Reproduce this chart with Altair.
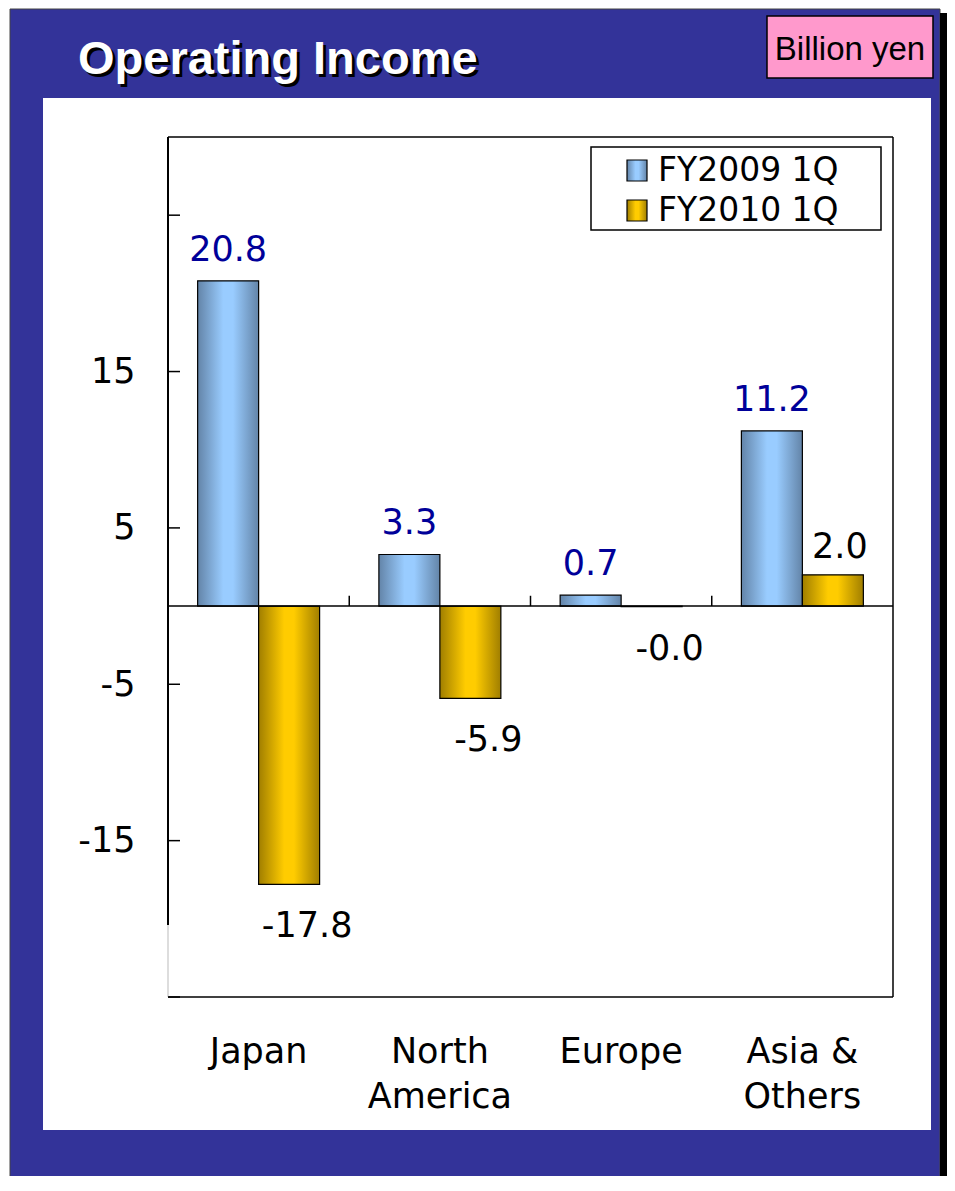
import altair as alt
import pandas as pd

# ---------------- data ----------------
regions = ["Japan", "North\nAmerica", "Europe", "Asia &\nOthers"]
series = ["FY2009 1Q", "FY2010 1Q"]
fy2009 = [20.8, 3.3, 0.7, 11.2]
fy2010 = [-17.8, -5.9, -0.04, 2.0]
fy2009_labels = ["20.8", "3.3", "0.7", "11.2"]
fy2010_labels = ["-17.8", "-5.9", "-0.0", "2.0"]
y_tick_values = [-25, -15, -5, 5, 15, 25]
y_label_values = [-15, -5, 5, 15]
title_text = "Operating Income"
unit_text = "Billion yen"

rows = []
for r, v, l in zip(regions, fy2009, fy2009_labels):
    rows.append({"region": r, "series": series[0], "value": v, "label": l})
for r, v, l in zip(regions, fy2010, fy2010_labels):
    rows.append({"region": r, "series": series[1], "value": v, "label": l})
df = pd.DataFrame(rows)
d09 = df[df["series"] == series[0]]
d10 = df[df["series"] == series[1]]
ticks_df = pd.DataFrame({"value": y_tick_values})
bounds_df = pd.DataFrame({"region": regions[1:]})
one = alt.Data(values=[{}])

# ---------------- styles ----------------
W, H = 725, 860
FONT = "DejaVu Sans"
BLUE_FRAME = "#333399"
grad09 = alt.LinearGradient(
    gradient="linear", x1=0, x2=1, y1=0, y2=0,
    stops=[alt.GradientStop(offset=0, color="#6384A8"),
           alt.GradientStop(offset=0.42, color="#99CCFF"),
           alt.GradientStop(offset=0.58, color="#99CCFF"),
           alt.GradientStop(offset=1, color="#6384A8")])
grad10 = alt.LinearGradient(
    gradient="linear", x1=0, x2=1, y1=0, y2=0,
    stops=[alt.GradientStop(offset=0, color="#A07E00"),
           alt.GradientStop(offset=0.42, color="#FFCC00"),
           alt.GradientStop(offset=0.58, color="#FFCC00"),
           alt.GradientStop(offset=1, color="#A07E00")])

x_scale = alt.Scale(domain=regions, paddingInner=0, paddingOuter=0)
y_scale = alt.Scale(domain=[-25, 30], nice=False, zero=False)
xo_scale = alt.Scale(domain=series, paddingInner=0, paddingOuter=0.486)

x_axis = alt.Axis(title=None, labelExpr="split(datum.label, '\\n')", labelFont=FONT,
                  labelFontSize=35, labelColor="black", labelPadding=37,
                  labelLineHeight=45, labelAngle=0, ticks=False, tickSize=0,
                  domain=False, grid=False, zindex=5)
y_axis = alt.Axis(title=None, values=y_label_values, labelExpr="'' + datum.value",
                  labelFont=FONT, labelFontSize=35, labelColor="black",
                  labelPadding=33, ticks=False, tickSize=0, domain=False, grid=False,
                  zindex=5)

X = alt.X("region:N", scale=x_scale, axis=x_axis)
Y = alt.Y("value:Q", scale=y_scale, axis=y_axis)
XO = alt.XOffset("series:N", scale=xo_scale)

# ---------------- decoration ----------------
frame = alt.Chart(one).mark_rect(fill=BLUE_FRAME, stroke="#444444", strokeWidth=1).encode(
    x=alt.value(-158), x2=alt.value(772), y=alt.value(-128), y2=alt.value(1045))
shadow = alt.Chart(one).mark_rect(fill="black").encode(
    x=alt.value(772), x2=alt.value(779), y=alt.value(-124), y2=alt.value(1045))
panel = alt.Chart(one).mark_rect(fill="white").encode(
    x=alt.value(-125), x2=alt.value(763), y=alt.value(-39), y2=alt.value(993))
unit_box = alt.Chart(one).mark_rect(fill="#FF99CC", stroke="black", strokeWidth=1.5).encode(
    x=alt.value(599), x2=alt.value(765), y=alt.value(-121), y2=alt.value(-59))
unit_txt = alt.Chart(one).mark_text(text=unit_text, font="Liberation Sans", fontSize=33,
                                    color="black", align="center", baseline="alphabetic").encode(
    x=alt.value(682), y=alt.value(-77))
title_shadow = alt.Chart(one).mark_text(text=title_text, font="Liberation Sans",
                                        fontSize=47, fontWeight="bold", color="black",
                                        align="left", baseline="alphabetic").encode(
    x=alt.value(-87), y=alt.value(-60))
title = alt.Chart(one).mark_text(text=title_text, font="Liberation Sans",
                                 fontSize=47, fontWeight="bold", color="white",
                                 align="left", baseline="alphabetic").encode(
    x=alt.value(-90), y=alt.value(-63))

# plot borders
top_b = alt.Chart(one).mark_rule(color="black", strokeWidth=1.5).encode(
    x=alt.value(0), x2=alt.value(W), y=alt.value(0))
right_b = alt.Chart(one).mark_rule(color="black", strokeWidth=1.5).encode(
    x=alt.value(W), y=alt.value(0), y2=alt.value(H))
bottom_b = alt.Chart(one).mark_rule(color="black", strokeWidth=1.5).encode(
    x=alt.value(0), x2=alt.value(W), y=alt.value(H))
left_b = alt.Chart(one).mark_rule(color="black", strokeWidth=2).encode(
    x=alt.value(0), y=alt.value(0), y2=alt.value(788))
left_b2 = alt.Chart(one).mark_rule(color="#BBBBBB", strokeWidth=1).encode(
    x=alt.value(0), y=alt.value(788), y2=alt.value(H))

y_ticks = alt.Chart(ticks_df).mark_rule(color="black", strokeWidth=1.5).encode(
    y=Y, x=alt.value(0), x2=alt.value(12))
zero = alt.Chart(one).mark_rule(color="black", strokeWidth=1.5).encode(
    y=alt.datum(0), x=alt.value(0), x2=alt.value(W))
cat_ticks = alt.Chart(bounds_df).mark_rule(color="black", strokeWidth=1.5).encode(
    x=alt.X("region:N", scale=x_scale, axis=x_axis, bandPosition=0),
    y=alt.datum(0), y2=alt.datum(0.66))

# ---------------- bars ----------------
bars09 = alt.Chart(d09).mark_bar(fill=grad09, stroke="black", strokeWidth=1.2).encode(
    x=X, xOffset=XO, y=Y, y2=alt.datum(0))
bars10 = alt.Chart(d10).mark_bar(fill=grad10, stroke="black", strokeWidth=1.2).encode(
    x=X, xOffset=XO, y=Y, y2=alt.datum(0))

lab09 = alt.Chart(d09).mark_text(font=FONT, fontSize=35, color="#000099",
                                 baseline="alphabetic", dy=-20).encode(
    x=X, xOffset=XO, y=Y, text="label:N")
lab10p = alt.Chart(d10).transform_filter("datum.value >= 0").mark_text(
    font=FONT, fontSize=35, color="black", baseline="alphabetic", dy=-17, dx=7).encode(
    x=X, xOffset=XO, y=Y, text="label:N")
lab10n = alt.Chart(d10).transform_filter("datum.value < 0").mark_text(
    font=FONT, fontSize=35, color="black", baseline="alphabetic", dy=53, dx=18).encode(
    x=X, xOffset=XO, y=Y, text="label:N")

# ---------------- legend ----------------
leg_box = alt.Chart(one).mark_rect(fill="white", stroke="black", strokeWidth=1.5).encode(
    x=alt.value(423), x2=alt.value(713), y=alt.value(10), y2=alt.value(93))
sw09 = alt.Chart(one).mark_rect(fill=grad09, stroke="black", strokeWidth=1.2).encode(
    x=alt.value(459), x2=alt.value(479), y=alt.value(23), y2=alt.value(44))
sw10 = alt.Chart(one).mark_rect(fill=grad10, stroke="black", strokeWidth=1.2).encode(
    x=alt.value(459), x2=alt.value(479), y=alt.value(63), y2=alt.value(84))
lt09 = alt.Chart(one).mark_text(text=series[0], font=FONT, fontSize=33, color="black",
                                align="left", baseline="alphabetic").encode(
    x=alt.value(490), y=alt.value(44))
lt10 = alt.Chart(one).mark_text(text=series[1], font=FONT, fontSize=33, color="black",
                                align="left", baseline="alphabetic").encode(
    x=alt.value(490), y=alt.value(84))

chart = alt.layer(
    frame, shadow, panel, unit_box, unit_txt, title_shadow, title,
    top_b, right_b, bottom_b, left_b, left_b2, y_ticks,
    bars09, bars10, zero, cat_ticks,
    lab09, lab10p, lab10n,
    leg_box, sw09, sw10, lt09, lt10,
).properties(
    width=W, height=H,
    padding={"left": 160, "top": 129, "right": 54, "bottom": 179},
    autosize=alt.AutoSizeParams(type="none"),
    background="white",
).configure_view(stroke=None)

chart.save("out.html", embed_options={"renderer": "svg", "actions": False})
